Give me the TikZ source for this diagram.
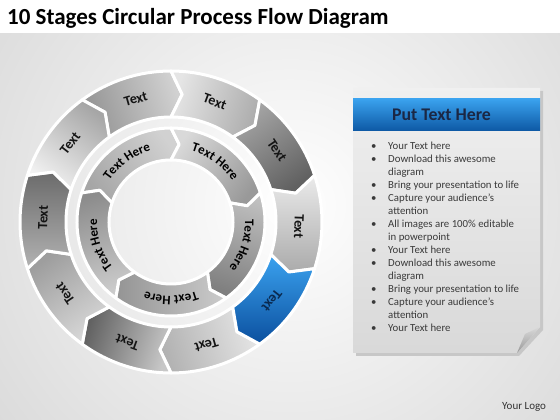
\documentclass[tikz,border=0pt]{standalone}
\usepackage{fontspec}
\setmainfont{Carlito}
\usetikzlibrary{decorations.text}
\definecolor{blueL}{HTML}{3BA3F0}
\definecolor{blueD}{HTML}{0B4F9E}
\definecolor{hdrL}{HTML}{3AA2EE}
\definecolor{hdrD}{HTML}{0D58A4}
\definecolor{navy}{HTML}{1B2744}
\definecolor{bluetxt}{HTML}{0A2A50}
\definecolor{bodytxt}{HTML}{3A3A3A}
\newcommand\innerfont{\bfseries\fontsize{13}{13}\selectfont}
\begin{document}
\begin{tikzpicture}[x=1pt,y=1pt,
  seg/.style={draw=white, line width=3pt, line join=round},
  lbl/.style={font=\bfseries\fontsize{14}{14}\selectfont, text=black!92, inner sep=0pt},
  bul/.style={anchor=mid west, font=\fontsize{10.8}{12}\selectfont, text=bodytxt, inner sep=0pt}]
\useasboundingbox (0,0) rectangle (560,420);
% background
\fill[black!14] (0,0) rectangle (560,387);
\begin{scope}
  \clip (0,0) rectangle (560,387);
  \shade[inner color=white, outer color=black!14] (290,215) circle[radius=360pt];
\end{scope}
\fill[white] (0,387) rectangle (560,420);
\node[anchor=base west, font=\bfseries\fontsize{23}{25}\selectfont, inner sep=0pt] (title) at (7,395) {10 Stages Circular Process Flow Diagram};
% outer ring
\begin{scope}[shift={(171,198)}]
  \foreach \k/\lc/\dc in {0/black!42/black!18, 1/black!10/black!32, 2/black!35/black!62, 3/black!8/black!33, 5/black!10/black!30, 6/black!22/black!62, 7/black!15/black!38, 8/black!30/black!58, 9/black!5/black!35}{
    \pgfmathsetmacro\a{126-36*\k}
    \pgfmathsetmacro\b{\a-36}
    \pgfmathsetmacro\c{\a-18}
    \path[seg, top color=\lc, bottom color=\dc, shading angle=\c]
      (\a:151) arc[start angle=\a, end angle=\b, radius=151pt] -- ({\b-5}:128) -- (\b:105)
      arc[start angle=\b, end angle=\a, radius=105pt] -- ({\a-5}:128) -- cycle;
  }
  % blue segment
  \path[seg, top color=blueL, bottom color=blueD]
    (-18:151) arc[start angle=-18, end angle=-54, radius=151pt] -- (-59:128) -- (-54:105)
    arc[start angle=-54, end angle=-18, radius=105pt] -- (-23:128) -- cycle;
  \foreach \k in {0,1,2,3,5,6,7,8,9}{
    \pgfmathsetmacro\c{108-36*\k-2}
    \node[lbl, rotate=\c-90] (o\k) at (\c:128) {Text};
  }
  \node[lbl, text=bluetxt, rotate=-128] (o4) at (-38:128) {Text};
  % inner ring
  \foreach \j/\lc/\dc in {0/black!35/black!18, 1/black!15/black!40, 2/black!25/black!50, 3/black!20/black!42, 4/black!20/black!45}{
    \pgfmathsetmacro\a{162-72*\j}
    \pgfmathsetmacro\b{\a-72}
    \pgfmathsetmacro\c{\a-36}
    \path[seg, top color=\lc, bottom color=\dc, shading angle=\c]
      (\a:94) arc[start angle=\a, end angle=\b, radius=94pt] -- ({\b-6}:78) -- (\b:62)
      arc[start angle=\b, end angle=\a, radius=62pt] -- ({\a-6}:78) -- cycle;
    \pgfmathsetmacro\s{\c+32}
    \pgfmathsetmacro\e{\c-32}
    \path[decorate, decoration={text along path, text align=center, text={|\innerfont|Text Here}}]
      (\s:74) arc[start angle=\s, end angle=\e, radius=74pt];
  }
\end{scope}
% right panel
\fill[black!22] (356,64) -- (519,64) -- (543,90) -- (543,329) -- (356,329) -- cycle;
\path[top color=black!6, bottom color=black!15] (353,67) -- (517,67) -- (540,93) -- (540,332) -- (353,332) -- cycle;
\path[top color=black!15, bottom color=black!40] (540,93) -- (517,67) -- (525,86) -- cycle;
\path[top color=hdrL, bottom color=hdrD] (353,289) rectangle (540,321);
\node[font=\bfseries\fontsize{17.8}{18}\selectfont, text=navy, inner sep=0pt] (hdr) at (441.5,305) {Put Text Here};
\foreach \i/\t/\b in {0/Your Text here/1, 1/Download this awesome/1, 2/diagram/0, 3/Bring your presentation to life/1, 4/Capture your audience’s/1, 5/attention/0, 6/All images are 100\% editable/1, 7/in powerpoint/0, 8/Your Text here/1, 9/Download this awesome/1, 10/diagram/0, 11/Bring your presentation to life/1, 12/Capture your audience’s/1, 13/attention/0, 14/Your Text here/1}{
  \node[bul] (line\i) at (388,{273-13*\i}) {\t};
  \ifnum\b=1 \node[bul] (dot\i) at (371,{273-13*\i}) {•}; \fi
}
\node[bul, font=\fontsize{11}{12}\selectfont, text=black!80] (logo) at (502,13) {Your Logo};
\end{tikzpicture}
\end{document}
